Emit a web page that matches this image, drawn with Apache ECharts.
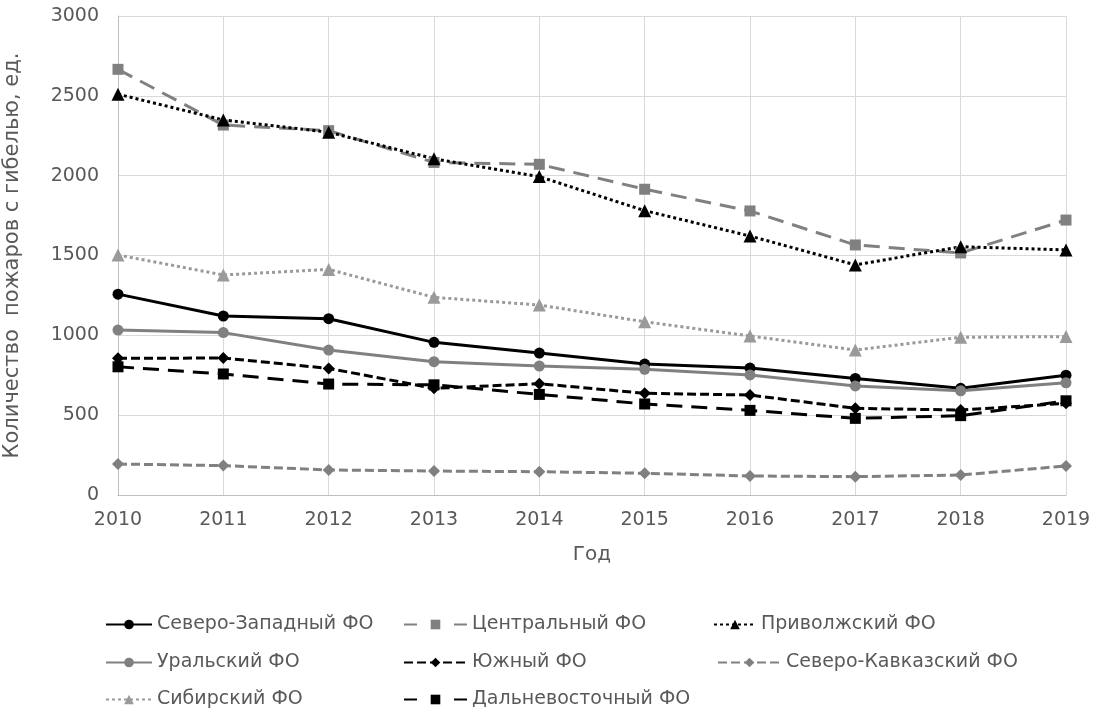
<!DOCTYPE html>
<html>
<head>
<meta charset="utf-8">
<title>Пожары с гибелью</title>
<script src="https://cdn.jsdelivr.net/npm/echarts@6/dist/echarts.min.js"></script>
<style>
    html, body { margin: 0; padding: 0; background: #fff; }
    #chart { width: 1098px; height: 712px; }
</style>
</head>
<body>
<div id="chart"></div>
<script>
// data
var years = ['2010', '2011', '2012', '2013', '2014', '2015', '2016', '2017', '2018', '2019'];

var szfo   = [1258, 1121, 1104, 956, 889, 820, 795, 730, 668, 750];   // Северо-Западный
var cfo    = [2666, 2317, 2282, 2083, 2071, 1915, 1779, 1566, 1516, 1722]; // Центральный
var pfo    = [2510, 2349, 2272, 2106, 1994, 1781, 1622, 1441, 1555, 1535]; // Приволжский
var urfo   = [1033, 1017, 908, 835, 808, 787, 752, 683, 653, 703];    // Уральский
var yufo   = [856, 858, 793, 668, 697, 637, 626, 543, 532, 574];      // Южный
var skfo   = [194, 184, 157, 150, 146, 136, 119, 115, 125, 182];      // Северо-Кавказский
var sfo    = [1503, 1378, 1413, 1238, 1190, 1085, 996, 908, 988, 992]; // Сибирский
var dfo    = [803, 758, 695, 690, 630, 570, 530, 480, 497, 590];      // Дальневосточный

var BLACK = '#000000';
var GRAY = '#808080';
var LGRAY = '#9a9a9a';
var FONT = 'DejaVu Sans';

function line(name, data, color, type, symbol, size) {
    return {
        name: name,
        type: 'line',
        data: data,
        symbol: symbol,
        symbolSize: size,
        showSymbol: true,
        itemStyle: { color: color },
        lineStyle: { color: color, width: 3, type: type, cap: 'butt' },
        emphasis: { disabled: true },
        animation: false
    };
}

// one legend per entry, the reference legend is not a regular grid
function legendItem(name, left, top, width, dash) {
    var item = { name: name };
    if (dash) item.lineStyle = { type: dash };
    return {
        left: left, top: top,
        itemWidth: width, itemHeight: 12,
        textStyle: { fontFamily: FONT, fontSize: 19, color: '#595959' },
        data: [item]
    };
}

var myChart = echarts.init(document.getElementById('chart'));
var option = {
    backgroundColor: '#ffffff',
    textStyle: { fontFamily: FONT },
    grid: { left: 118, right: 32, top: 16, bottom: 217, outerBoundsMode: 'none' },
    xAxis: {
        type: 'category',
        data: years,
        boundaryGap: false,
        name: 'Год',
        nameLocation: 'middle',
        nameGap: 50,
        nameTextStyle: { fontSize: 20, color: '#595959' },
        axisLine: { lineStyle: { color: '#bfbfbf' } },
        axisTick: { show: false },
        splitLine: { show: true, lineStyle: { color: '#d9d9d9' } },
        axisLabel: { fontSize: 19, color: '#595959', margin: 16 }
    },
    yAxis: {
        type: 'value',
        min: 0,
        max: 3000,
        interval: 500,
        name: 'Количество  пожаров с гибелью, ед.',
        nameLocation: 'middle',
        nameGap: 95,
        nameTextStyle: { fontSize: 21, color: '#595959' },
        axisLine: { show: true, lineStyle: { color: '#bfbfbf' } },
        axisTick: { show: false },
        splitLine: { lineStyle: { color: '#d9d9d9' } },
        axisLabel: {
            fontSize: 19, color: '#595959', margin: 19,
            formatter: function (v) { return String(v); }
        }
    },
    legend: [
        legendItem('Северо-Западный ФО', 100, 610, 46),
        legendItem('Уральский ФО', 100, 648, 46),
        legendItem('Сибирский ФО', 100, 685, 46),
        legendItem('Центральный ФО', 398, 610, 63, [13, 37]),
        legendItem('Южный ФО', 398, 648, 63),
        legendItem('Дальневосточный ФО', 398, 685, 63, [13, 37]),
        legendItem('Приволжский ФО', 708, 610, 42),
        legendItem('Северо-Кавказский ФО', 712, 648, 63)
    ],
    series: [
        line('Северо-Западный ФО', szfo, BLACK, 'solid', 'circle', 11),
        line('Центральный ФО', cfo, GRAY, [16, 9], 'rect', 11),
        line('Приволжский ФО', pfo, BLACK, [3, 3], 'triangle', 13),
        line('Уральский ФО', urfo, GRAY, 'solid', 'circle', 11),
        line('Южный ФО', yufo, BLACK, [9, 4], 'diamond', 12),
        line('Северо-Кавказский ФО', skfo, GRAY, [9, 4], 'diamond', 12),
        line('Сибирский ФО', sfo, LGRAY, [3, 3], 'triangle', 13),
        line('Дальневосточный ФО', dfo, BLACK, [16, 9], 'rect', 11)
    ]
};
myChart.setOption(option);
</script>
</body>
</html>
